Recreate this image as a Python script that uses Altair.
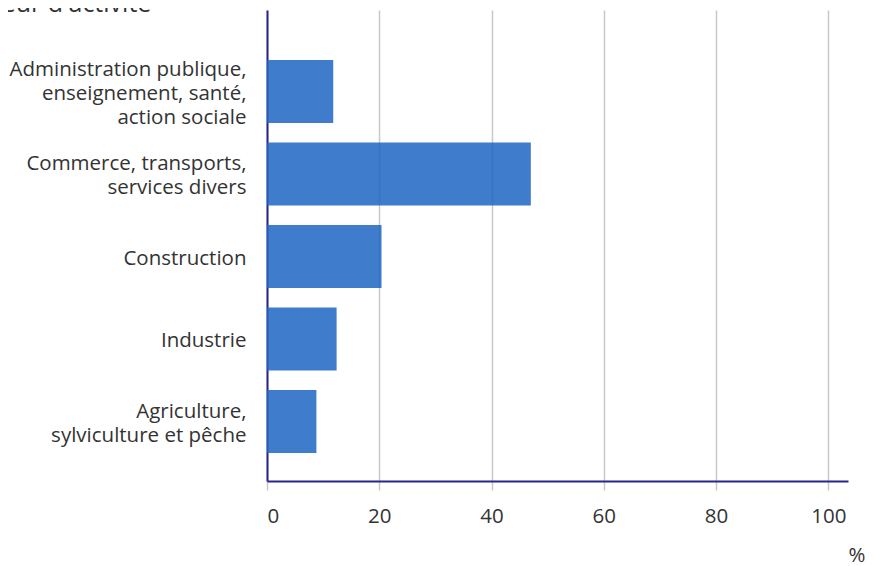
import altair as alt
import pandas as pd

categories = [
    "Administration publique,\nenseignement, santé,\naction sociale",
    "Commerce, transports,\nservices divers",
    "Construction",
    "Industrie",
    "Agriculture,\nsylviculture et pêche",
]
values = [11.8, 47.0, 20.4, 12.4, 8.8]
x_ticks = [0, 20, 40, 60, 80, 100]

df = pd.DataFrame({"secteur": categories, "part": values})

FONT = "Open Sans"
TXT = "#333333"
NAVY = "#25258e"
FS = 20.5
LH = 24
SHIFT = 2.5

bars = alt.Chart(df).mark_bar(color="#1f65c3", opacity=0.85).encode(
    x=alt.X(
        "part:Q",
        scale=alt.Scale(domain=[0, 103.5], nice=False),
        axis=alt.Axis(
            values=x_ticks,
            title="%",
            titleX=598,
            titleY=80,
            titleAlign="right",
            titleBaseline="alphabetic",
            titleFontSize=FS,
            titleFontWeight="normal",
            titleColor=TXT,
            titleFont=FONT,
            labelFont=FONT,
            labelFontSize=FS,
            labelColor=TXT,
            labelPadding=16,
            tickSize=9,
            tickColor="#c8c8c8",
            tickWidth=1.5,
            grid=True,
            gridColor="#c8c8c8",
            gridWidth=1.5,
            domainColor=NAVY,
            domainWidth=2,
        ),
    ),
    y=alt.Y(
        "secteur:N",
        sort=categories,
        scale=alt.Scale(paddingInner=0.236, paddingOuter=0.473, align=0.64),
        axis=alt.Axis(
            title=None,
            ticks=False,
            grid=False,
            labelExpr="split(datum.label, '\\n')",
            labelOffset={
                "condition": [
                    {"test": "length(split(datum.value, '\\n')) == 3", "value": -LH + SHIFT},
                    {"test": "length(split(datum.value, '\\n')) == 2", "value": -LH / 2 + SHIFT},
                ],
                "value": SHIFT,
            },
            labelFont=FONT,
            labelFontSize=FS,
            labelColor=TXT,
            labelPadding=21,
            labelLineHeight=LH,
            labelLimit=400,
            domainColor=NAVY,
            domainWidth=2,
        ),
    ),
)

chart = bars.properties(
    width=581,
    height=471,
    autosize=alt.AutoSizeParams(type="none"),
    padding={"left": 259, "top": 2, "right": 18, "bottom": 84},
    title=alt.TitleParams(
        "Secteur d'activité",
        anchor="start",
        frame="group",
        fontSize=25,
        fontWeight="normal",
        color=TXT,
        font=FONT,
        baseline="alphabetic",
        offset=0,
        dx=-314,
        dy=27,
    ),
).configure_view(stroke=None)

chart.save("out.html", embed_options={"renderer": "svg", "actions": False})
